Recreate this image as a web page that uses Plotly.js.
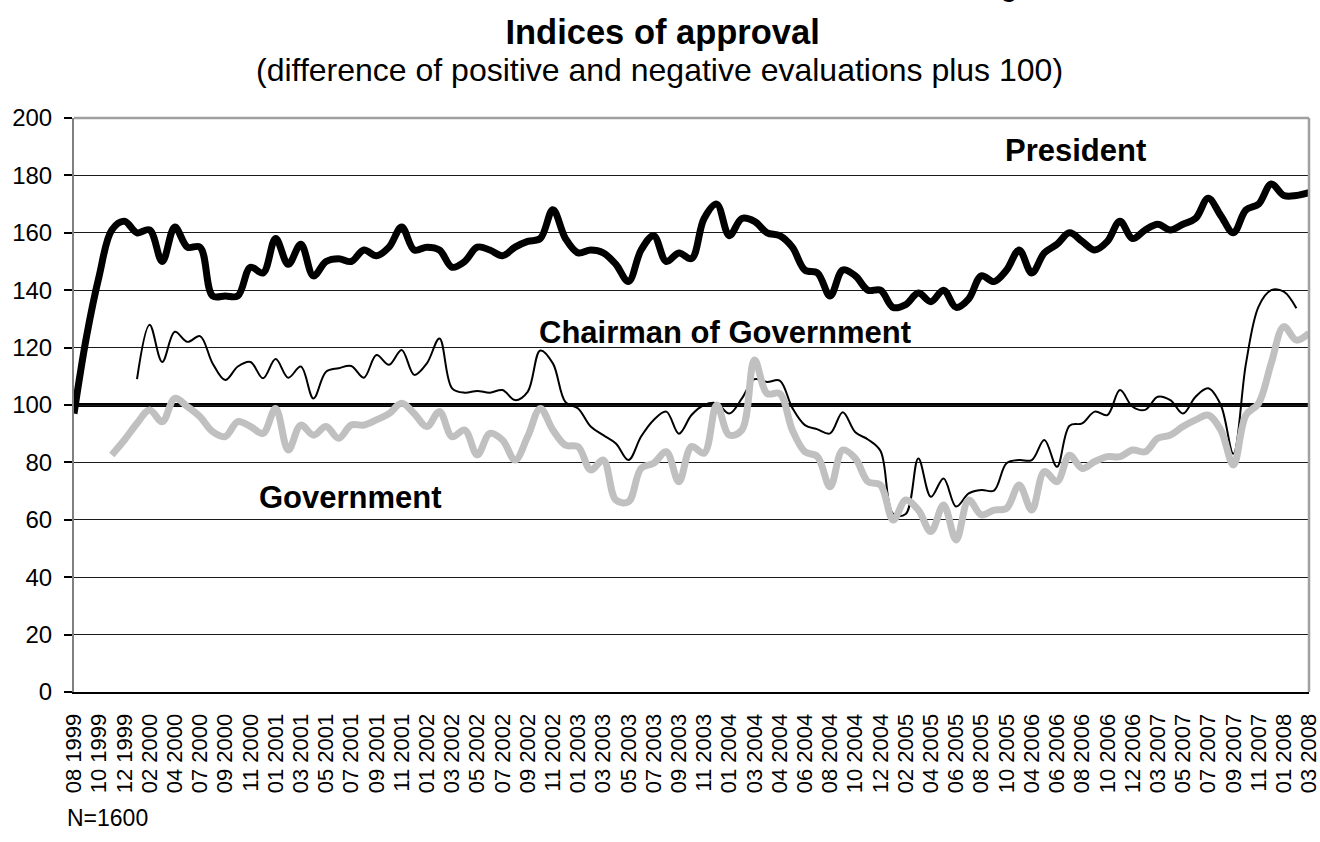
<!DOCTYPE html>
<html>
<head>
<meta charset="utf-8">
<script src="https://cdn.plot.ly/plotly-3.0.1.min.js"></script>
<style>
  html, body { margin: 0; padding: 0; background: #fff; }
  #chart { width: 1320px; height: 842px; }
</style>
</head>
<body>
<div id="chart"></div>
<script>
// survey labels, shown on every second survey
const tickLabels = [
  "08 1999", "10 1999", "12 1999", "02 2000", "04 2000", "07 2000", "09 2000", "11 2000",
  "01 2001", "03 2001", "05 2001", "07 2001", "09 2001", "11 2001",
  "01 2002", "03 2002", "05 2002", "07 2002", "09 2002", "11 2002",
  "01 2003", "03 2003", "05 2003", "07 2003", "09 2003", "11 2003",
  "01 2004", "03 2004", "04 2004", "06 2004", "08 2004", "10 2004", "12 2004",
  "02 2005", "04 2005", "06 2005", "08 2005", "10 2005",
  "04 2006", "06 2006", "08 2006", "10 2006", "12 2006",
  "03 2007", "05 2007", "07 2007", "09 2007", "11 2007",
  "01 2008", "03 2008"
];

// one value per survey (99 surveys)
const president = [
  97, 124, 145, 161, 164, 160, 161, 150, 162, 155,
  155, 138, 138, 138, 148, 146, 158, 149, 156, 145,
  150, 151, 150, 154, 152, 155, 162, 154, 155, 154,
  148, 150, 155, 154, 152, 155, 157, 158, 168, 158,
  153, 154, 153, 149, 143, 154, 159, 150, 153, 151,
  165, 170, 159, 165, 164, 160, 159, 155, 147, 146,
  138, 147, 145, 140, 140, 134, 135, 139, 136, 140,
  134, 137, 145, 143, 147, 154, 146, 153, 156, 160,
  157, 154, 157, 164, 158, 161, 163, 161, 163, 165,
  172, 166, 160, 168, 170, 177, 173, 173, 174
];

const chairman = [
  null, null, null, null, null, 109, 128, 115, 125.5, 122,
  124, 114.5, 108.7, 113.4, 115, 109.3, 116, 109.5, 113.4, 102.3,
  111.6, 112.8, 113.6, 109.5, 117.4, 114, 119.2, 110.5, 114.5, 123.2,
  105.8, 104.3, 104.9, 104.3, 105.2, 101.7, 104.6, 119, 114.5, 101,
  98.8, 92.5, 89.5, 86.6, 80.8, 89, 94.8, 97.7, 90, 96.5,
  100, 100.6, 97, 102.3, 109, 108, 108.5, 99, 93, 91.5,
  90.1, 97.5, 90.5, 88, 84, 62, 62, 81.4, 68, 74.4,
  64.6, 69.2, 70.4, 70.2, 79.7, 80.8, 80.8, 87.8, 78.5, 92.8,
  93.6, 97.7, 96.5, 105.2, 99.4, 98.3, 102.9, 101.7, 97, 102.9,
  105.8, 100, 83, 114.5, 134.3, 140, 139.5, 133.7, null
];

const government = [
  null, null, null, 82.6, 87.8, 93.6, 98.3, 94.2, 102.3, 99.4,
  95.9, 90.7, 89, 94.2, 92.5, 90.1, 98.8, 84.3, 93, 89.5,
  92.5, 88.4, 93, 93, 94.8, 97, 100.6, 97, 92.5, 97.7,
  89, 91.3, 82.6, 90.1, 87.8, 80.8, 89, 98.8, 91.3, 86,
  85.5, 77.4, 80.8, 66.9, 66.3, 77.9, 79.7, 83.7, 73.3, 85.5,
  83.2, 100, 89.5, 91.3, 115.7, 104, 104, 91.3, 83.7, 82,
  71.5, 84.3, 81.4, 73.3, 72.1, 59.9, 66.9, 63.4, 55.9, 65.2,
  53, 66.9, 61.7, 63.4, 64, 72.1, 63.4, 76.8, 73.3, 82.5,
  77.9, 80.3, 82, 82, 84.3, 83.7, 88.4, 89.5, 92.5, 94.8,
  96.5, 91.3, 79.1, 96.5, 100.6, 114.5, 127.3, 122.6, 125
];

const baseline = 100;

const surveyIdx = president.map((_, i) => i);
const lastIdx = surveyIdx.length - 1;
const labelIdx = tickLabels.map((_, k) => k * 2);
const tickMarkIdx = surveyIdx.filter(i => i % 3 === 0);

const FONT = '"Liberation Sans", Arial, sans-serif';

const traces = [
  {
    x: surveyIdx, y: chairman, mode: "lines", name: "Chairman of Government",
    line: { color: "#000", width: 2, shape: "spline", smoothing: 1 },
    hoverinfo: "skip"
  },
  {
    x: surveyIdx, y: government, mode: "lines", name: "Government",
    line: { color: "#c0c0c0", width: 7, shape: "spline", smoothing: 1 },
    hoverinfo: "skip"
  },
  {
    x: surveyIdx, y: president, mode: "lines", name: "President",
    line: { color: "#000", width: 7, shape: "spline", smoothing: 1 },
    hoverinfo: "skip"
  }
];

const layout = {
  width: 1320,
  height: 842,
  margin: { l: 74, r: 11, t: 118, b: 150 },
  paper_bgcolor: "#fff",
  plot_bgcolor: "#fff",
  showlegend: false,
  font: { family: FONT, color: "#000", size: 24 },
  title: {
    text: "<b>Indices of approval</b>",
    font: { family: FONT, size: 34.5, color: "#000" },
    x: 0.502, xanchor: "center",
    y: 1 - 32 / 842, yref: "container", yanchor: "middle"
  },
  xaxis: {
    range: [0, lastIdx],
    tickmode: "array",
    tickvals: labelIdx,
    ticktext: tickLabels,
    tickangle: -90,
    ticks: "",
    ticklabelstandoff: 11,
    ticklabeloverflow: "allow",
    tickfont: { family: FONT, size: 22, color: "#000" },
    showgrid: false,
    zeroline: false,
    showline: true,
    linecolor: "#000",
    linewidth: 2
  },
  xaxis2: {
    overlaying: "x",
    anchor: "y",
    side: "bottom",
    range: [0, lastIdx],
    tickmode: "array",
    tickvals: tickMarkIdx,
    ticks: "outside",
    ticklen: 8,
    tickwidth: 2,
    tickcolor: "#000",
    showticklabels: false,
    showgrid: false,
    zeroline: false,
    showline: false
  },
  yaxis: {
    range: [0, 200],
    tick0: 0,
    dtick: 20,
    ticks: "outside",
    ticklen: 8,
    tickwidth: 2,
    tickcolor: "#000",
    ticklabelstandoff: 7,
    tickfont: { family: FONT, size: 24, color: "#000" },
    showgrid: true,
    gridcolor: "#1a1a1a",
    gridwidth: 1,
    zeroline: false,
    showline: true,
    linecolor: "#808080",
    linewidth: 2
  },
  shapes: [
    // reference line at 100
    { type: "line", layer: "between", xref: "paper", x0: 0, x1: 1, yref: "y", y0: baseline, y1: baseline,
      line: { color: "#000", width: 4 } },
    // grey frame top and right
    { type: "line", xref: "paper", yref: "paper", x0: 0, x1: 1, y0: 1, y1: 1,
      line: { color: "#a0a0a0", width: 2.5 } },
    { type: "line", xref: "paper", yref: "paper", x0: 1, x1: 1, y0: 0, y1: 1,
      line: { color: "#a0a0a0", width: 2.5 } }
  ],
  annotations: [
    { text: "(difference of positive and negative evaluations plus 100)",
      xref: "paper", yref: "paper", x: (659.5 - 74) / 1235, y: (692 - 70) / 574,
      xanchor: "center", yanchor: "middle", showarrow: false,
      font: { family: FONT, size: 32, color: "#000" } },
    { text: "<b>President</b>", xref: "x", yref: "y", x: 79.5, y: 188.8,
      xanchor: "center", yanchor: "middle", showarrow: false,
      font: { family: FONT, size: 31, color: "#000" } },
    { text: "<b>Chairman of Government</b>", xref: "x", yref: "y", x: 51.66, y: 125.4,
      xanchor: "center", yanchor: "middle", showarrow: false,
      font: { family: FONT, size: 31, color: "#000" } },
    { text: "<b>Government</b>", xref: "x", yref: "y", x: 21.96, y: 67.9,
      xanchor: "center", yanchor: "middle", showarrow: false,
      font: { family: FONT, size: 31, color: "#000" } },
    { text: "N=1600", xref: "paper", yref: "paper", x: (65 - 74) / 1235, y: (692 - 818) / 574,
      xanchor: "left", yanchor: "middle", showarrow: false,
      font: { family: FONT, size: 23, color: "#000" } },
    // clipped remnant of a heading above the picture
    { text: "g", xref: "paper", yref: "paper", x: (1009 - 74) / 1235, y: (692 + 16) / 574,
      xanchor: "center", yanchor: "middle", showarrow: false,
      font: { family: FONT, size: 32, color: "#000" } }
  ]
};

Plotly.newPlot("chart", traces, layout, { staticPlot: true, displayModeBar: false });
</script>
</body>
</html>
